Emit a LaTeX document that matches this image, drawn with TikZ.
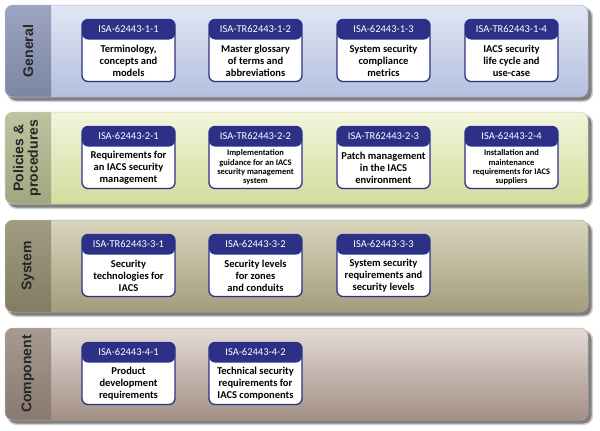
\documentclass[tikz,border=0pt]{standalone}
\usepackage{fontspec}
\setmainfont{Carlito}
\newfontfamily\bandfont{Liberation Sans}
\usetikzlibrary{positioning}

\definecolor{isanavy}{HTML}{2C3087}
\definecolor{genTop}{HTML}{E2E7F5}
\definecolor{genBot}{HTML}{B3BFDF}
\definecolor{genStrip}{HTML}{8A94B6}
\definecolor{polTop}{HTML}{F3F5DC}
\definecolor{polBot}{HTML}{D3DB9C}
\definecolor{polStrip}{HTML}{B2B98E}
\definecolor{sysTop}{HTML}{D9D5BE}
\definecolor{sysBot}{HTML}{A39C7C}
\definecolor{sysStrip}{HTML}{908A6C}
\definecolor{comTop}{HTML}{E4DBD7}
\definecolor{comBot}{HTML}{A28F84}
\definecolor{comStrip}{HTML}{98877D}

\begin{document}
\begin{tikzpicture}[x=1pt, y=-1pt,
	isabox/.style={draw=isanavy, line width=1.3pt, fill=white, rounded corners=6pt,
		minimum width=93pt, minimum height=62pt, inner sep=0pt,
		path picture={\fill[isanavy] (path picture bounding box.north west)
			rectangle ([yshift=-20pt]path picture bounding box.north east);}},
	isahead/.style={text=white, font=\fontsize{10.5}{12}\selectfont, inner sep=0pt},
	isatext/.style={align=center, font=\bfseries\fontsize{10.5}{12}\selectfont, inner sep=0pt},
	isasmall/.style={align=center, font=\bfseries\fontsize{8.5}{9.3}\selectfont, inner sep=0pt},
	bandlabel/.style={rotate=90, align=center, text=black!85,
		font=\bandfont\bfseries\fontsize{14}{14.5}\selectfont, inner sep=0pt},
	bandshadow/.style={fill=black!50, rounded corners=8pt}]
	\useasboundingbox (0,0) rectangle (600,431);
	
	\fill[black!18, rounded corners=9pt] (7,7) rectangle (593,102);
	\fill[bandshadow] (8.5,8.5) rectangle (591.5,100.5);
	\begin{scope}
		\clip[rounded corners=8pt] (5,5) rectangle (588,97);
		\shade[top color=genTop, bottom color=genBot] (5,5) rectangle (588,97);
		\shade[top color=genStrip!85!white, bottom color=genStrip!90!black] (5,5) rectangle (51,97);
	\end{scope}
	\draw[genStrip!70, line width=0.5pt, rounded corners=8pt] (5,5) rectangle (588,97);
	\node[bandlabel] (general) at (28,51) {General};
	
	\fill[black!18, rounded corners=9pt] (7,114) rectangle (593,209);
	\fill[bandshadow] (8.5,115.5) rectangle (591.5,207.5);
	\begin{scope}
		\clip[rounded corners=8pt] (5,112) rectangle (588,204);
		\shade[top color=polTop, bottom color=polBot] (5,112) rectangle (588,204);
		\shade[top color=polStrip!85!white, bottom color=polStrip!90!black] (5,112) rectangle (51,204);
	\end{scope}
	\draw[polStrip!70, line width=0.5pt, rounded corners=8pt] (5,112) rectangle (588,204);
	\node[bandlabel] (policies) at (27,158) {Policies \&\\procedures};
	
	\fill[black!18, rounded corners=9pt] (7,222) rectangle (593,317);
	\fill[bandshadow] (8.5,223.5) rectangle (591.5,315.5);
	\begin{scope}
		\clip[rounded corners=8pt] (5,220) rectangle (588,312);
		\shade[top color=sysTop, bottom color=sysBot] (5,220) rectangle (588,312);
		\shade[top color=sysStrip!85!white, bottom color=sysStrip!90!black] (5,220) rectangle (51,312);
	\end{scope}
	\draw[sysStrip!70, line width=0.5pt, rounded corners=8pt] (5,220) rectangle (588,312);
	\node[bandlabel] (system) at (28,266) {System};
	
	\fill[black!18, rounded corners=9pt] (7,330) rectangle (593,425);
	\fill[bandshadow] (8.5,331.5) rectangle (591.5,423.5);
	\begin{scope}
		\clip[rounded corners=8pt] (5,328) rectangle (588,420);
		\shade[top color=comTop, bottom color=comBot] (5,328) rectangle (588,420);
		\shade[top color=comStrip!85!white, bottom color=comStrip!90!black] (5,328) rectangle (51,420);
	\end{scope}
	\draw[comStrip!70, line width=0.5pt, rounded corners=8pt] (5,328) rectangle (588,420);
	\node[bandlabel] (component) at (28,374) {Component};
	
	\node[isabox] (g1) at (128.5,50.5) {};
	\node[isahead] (g1h) at ([yshift=-10pt]g1.north) {ISA-62443-1-1};
	\node[isatext] (g1t) at ([yshift=-10pt]g1.center) {Terminology,\\concepts and\\models};
	\node[isabox] (g2) at (255.5,50.5) {};
	\node[isahead] (g2h) at ([yshift=-10pt]g2.north) {ISA-TR62443-1-2};
	\node[isatext] (g2t) at ([yshift=-10pt]g2.center) {Master glossary\\of terms and\\abbreviations};
	\node[isabox] (g3) at (383.5,50.5) {};
	\node[isahead] (g3h) at ([yshift=-10pt]g3.north) {ISA-62443-1-3};
	\node[isatext] (g3t) at ([yshift=-10pt]g3.center) {System security\\compliance\\metrics};
	\node[isabox] (g4) at (511.5,50.5) {};
	\node[isahead] (g4h) at ([yshift=-10pt]g4.north) {ISA-TR62443-1-4};
	\node[isatext] (g4t) at ([yshift=-10pt]g4.center) {IACS security\\life cycle and\\use-case};
	
	\node[isabox] (p1) at (128.5,157.5) {};
	\node[isahead] (p1h) at ([yshift=-10pt]p1.north) {ISA-62443-2-1};
	\node[isatext] (p1t) at ([yshift=-10pt]p1.center) {Requirements for\\an IACS security\\management};
	\node[isabox] (p2) at (255.5,157.5) {};
	\node[isahead] (p2h) at ([yshift=-10pt]p2.north) {ISA-TR62443-2-2};
	\node[isasmall] (p2t) at ([yshift=-10pt]p2.center) {Implementation\\guidance for an IACS\\security management\\system};
	\node[isabox] (p3) at (383.5,157.5) {};
	\node[isahead] (p3h) at ([yshift=-10pt]p3.north) {ISA-TR62443-2-3};
	\node[isatext] (p3t) at ([yshift=-10pt]p3.center) {Patch management\\in the IACS\\environment};
	\node[isabox] (p4) at (511.5,157.5) {};
	\node[isahead] (p4h) at ([yshift=-10pt]p4.north) {ISA-62443-2-4};
	\node[isasmall] (p4t) at ([yshift=-10pt]p4.center) {Installation and\\maintenance\\requirements for IACS\\suppliers};
	
	\node[isabox] (s1) at (128.5,265.5) {};
	\node[isahead] (s1h) at ([yshift=-10pt]s1.north) {ISA-TR62443-3-1};
	\node[isatext] (s1t) at ([yshift=-10pt]s1.center) {Security\\technologies for\\IACS};
	\node[isabox] (s2) at (255.5,265.5) {};
	\node[isahead] (s2h) at ([yshift=-10pt]s2.north) {ISA-62443-3-2};
	\node[isatext] (s2t) at ([yshift=-10pt]s2.center) {Security levels\\for zones\\and conduits};
	\node[isabox] (s3) at (383.5,265.5) {};
	\node[isahead] (s3h) at ([yshift=-10pt]s3.north) {ISA-62443-3-3};
	\node[isatext] (s3t) at ([yshift=-10pt]s3.center) {System security\\requirements and\\security levels};
	
	\node[isabox] (c1) at (128.5,373.5) {};
	\node[isahead] (c1h) at ([yshift=-10pt]c1.north) {ISA-62443-4-1};
	\node[isatext] (c1t) at ([yshift=-10pt]c1.center) {Product\\development\\requirements};
	\node[isabox] (c2) at (255.5,373.5) {};
	\node[isahead] (c2h) at ([yshift=-10pt]c2.north) {ISA-62443-4-2};
	\node[isatext] (c2t) at ([yshift=-10pt]c2.center) {Technical security\\requirements for\\IACS components};
\end{tikzpicture}
\end{document}
